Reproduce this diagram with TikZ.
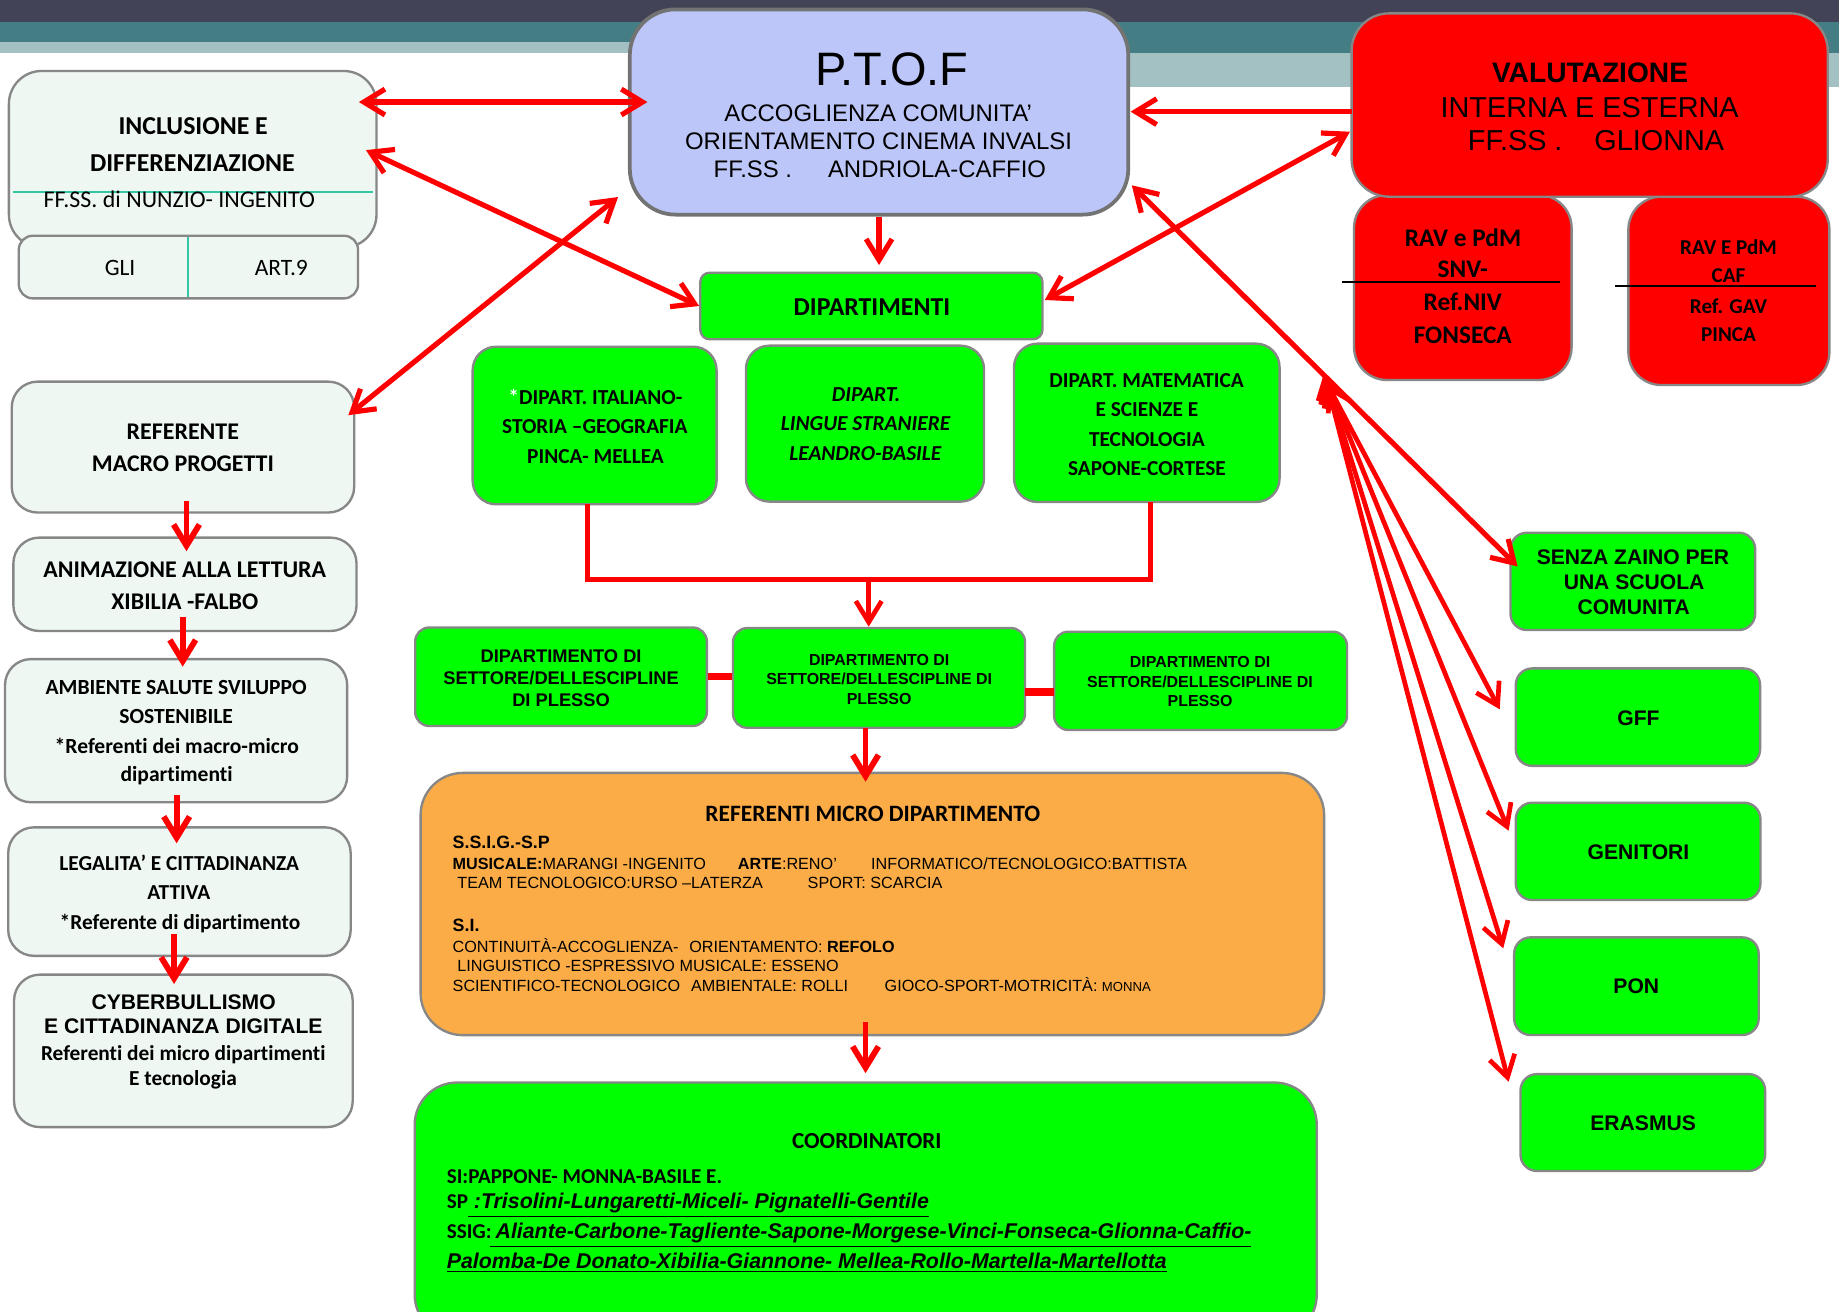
\documentclass[tikz,border=0pt]{standalone}
\usepackage{fontspec}
\setmainfont[Ligatures={NoCommon}]{Carlito}
\newfontfamily\rsArial{Liberation Sans}
\usetikzlibrary{arrows.meta,fit}
\definecolor{rsDark}{HTML}{434357}
\definecolor{rsTeal}{HTML}{447E84}
\definecolor{rsLight}{HTML}{A3C0C3}
\definecolor{rsBorder}{HTML}{878787}
\definecolor{rsLav}{HTML}{BCC6F8}
\definecolor{rsMint}{HTML}{EEF7F2}
\definecolor{rsGreen}{HTML}{00FF00}
\definecolor{rsRed}{HTML}{FF0000}
\definecolor{rsOrange}{HTML}{FBAC46}
\definecolor{rsLine}{HTML}{33C7A2}
\newcommand\rsCB[1]{\fontsize{#1}{#1}\selectfont\bfseries}
\newcommand\rsCR[1]{\fontsize{#1}{#1}\selectfont}
\newcommand\rsCBI[1]{\fontsize{#1}{#1}\selectfont\bfseries\itshape}
\newcommand\rsAB[1]{\rsArial\fontsize{#1}{#1}\selectfont\bfseries}
\newcommand\rsAR[1]{\rsArial\fontsize{#1}{#1}\selectfont}
\newcommand\rsABI[1]{\rsArial\fontsize{#1}{#1}\selectfont\bfseries\itshape}
\tikzset{
  rbox/.style={draw=rsBorder, line width=1pt, rounded corners=#1, inner sep=0pt},
  tl/.style={anchor=base, inner sep=0pt},
  tlw/.style={anchor=base west, inner sep=0pt},
  rarrow/.style={draw=rsRed, line width=2.2pt, -{Straight Barb[length=9pt,width=11pt]}},
  rdarrow/.style={draw=rsRed, line width=2.2pt, {Straight Barb[length=9pt,width=11pt]}-{Straight Barb[length=9pt,width=11pt]}},
  rline/.style={draw=rsRed, line width=2.2pt},
}
\begin{document}
\begin{tikzpicture}[x=0.5pt,y=-0.5pt]
\useasboundingbox (0,0) rectangle (1568,1118.6);
\clip (0,0) rectangle (1568,1118.6);
\fill[white] (0,0) rectangle (1568,1118.6);
% top bands
\fill[rsTeal] (0,18.5) rectangle (750,36);
\fill[rsLight] (0,36) rectangle (750,45);
\fill[rsTeal] (750,18.5) rectangle (1568,45);
\fill[rsLight] (750,45) rectangle (1568,74);
\fill[rsDark] (0,0) rectangle (1568,18.5);

% ---------- boxes ----------
\node[rbox=19.5pt, fill=rsLav, draw=rsBorder!85!black, line width=1.6pt, fit={(537,8) (962,183)}] (ptof) {};
\node[rbox=14pt, fill=rsMint, fit={(7.6,60.5) (321,211)}] (incl) {};
\node[rbox=6pt, fill=rsMint, fit={(16,201) (305.3,254.4)}] (gli) {};
\node[rbox=14pt, fill=rsRed, fit={(1154.5,166.3) (1340,324)}] (rav1) {};
\node[rbox=14pt, fill=rsRed, fit={(1388.4,167.7) (1559.8,328.3)}] (rav2) {};
\node[rbox=16pt, fill=rsRed, fit={(1152.4,11.4) (1558.4,167.7)}] (valut) {};
\node[rbox=4pt, fill=rsGreen, fit={(597.1,232.5) (888.8,289.3)}] (dip) {};
\node[rbox=10pt, fill=rsGreen, fit={(403,295.6) (611,430)}] (dA) {};
\node[rbox=10pt, fill=rsGreen, fit={(636,294.7) (839,427.7)}] (dB) {};
\node[rbox=10pt, fill=rsGreen, fit={(864.6,293) (1091,428)}] (dC) {};
\node[rbox=6pt, fill=rsGreen, fit={(354,535) (602.7,619)}] (s1) {};
\node[rbox=6pt, fill=rsGreen, fit={(625,535.5) (874,620.5)}] (s2) {};
\node[rbox=6pt, fill=rsGreen, fit={(898.8,538.6) (1148.5,622.4)}] (s3) {};
\node[rbox=18pt, fill=rsOrange, fit={(358.6,659) (1129,882.6)}] (orange) {};
\node[rbox=18pt, fill=rsGreen, fit={(353.6,923) (1122.7,1140)}] (coord) {};
\node[rbox=11pt, fill=rsMint, fit={(10,325.4) (302,437)}] (ref) {};
\node[rbox=11pt, fill=rsMint, fit={(11.4,458.4) (304,538)}] (anim) {};
\node[rbox=11pt, fill=rsMint, fit={(4.3,562) (296,684)}] (amb) {};
\node[rbox=11pt, fill=rsMint, fit={(7,705.4) (299,815)}] (leg) {};
\node[rbox=11pt, fill=rsMint, fit={(12,831) (300.7,961)}] (cyber) {};
\node[rbox=7pt, fill=rsGreen, fit={(1287.9,454.2) (1496.5,537.2)}] (senza) {};
\node[rbox=7pt, fill=rsGreen, fit={(1292.4,569.9) (1500.7,653)}] (gff) {};
\node[rbox=7pt, fill=rsGreen, fit={(1292.4,684.4) (1501,767.4)}] (gen) {};
\node[rbox=7pt, fill=rsGreen, fit={(1291,799.2) (1499.5,882.5)}] (pon) {};
\node[rbox=7pt, fill=rsGreen, fit={(1296.4,915.8) (1505,998.4)}] (eras) {};

% ---------- inner rules ----------
\draw[rsLine, line width=0.8pt] (11.4,163.4) -- (318,163.4);
\draw[rsLine, line width=0.8pt] (160.3,202) -- (160.3,253.4);
\draw[black, line width=0.7pt] (1144.2,240.7) -- (1329.7,240.7);
\draw[black, line width=0.7pt] (1377.2,243.6) -- (1548.1,243.6);

% ---------- texts ----------
\node[tl, font={\rsAR{20}}] (ptofT1) at (760.5,73.3) {P.T.O.F};
\node[tl, font={\rsAR{10.2}}] (ptofT2) at (748.8,103.7) {ACCOGLIENZA COMUNITA’};
\node[tl, font={\rsAR{10.2}}] (ptofT3) at (749,127.3) {ORIENTAMENTO CINEMA INVALSI};
\node[tlw, font={\rsAR{10.2}}] (ptofT4) at (608.1,151.5) {FF.SS .};
\node[tlw, font={\rsAR{10.2}}] (ptofT5) at (705.6,151.5) {ANDRIOLA-CAFFIO};

\node[tl, font={\rsAB{12}}] (valT1) at (1355.7,70.2) {VALUTAZIONE};
\node[tl, font={\rsAR{12.3}}] (valT2) at (1355.4,100) {INTERNA E ESTERNA};
\node[tlw, font={\rsAR{12.3}}] (valT3) at (1251.2,128.5) {FF.SS .};
\node[tlw, font={\rsAR{12.3}}] (valT4) at (1359,128.5) {GLIONNA};

\node[tl, font={\rsCB{10.8}}] (r1a) at (1247.4,209.8) {RAV e PdM};
\node[tl, font={\rsCB{10.8}}] (r1b) at (1247.2,236.8) {SNV-};
\node[tl, font={\rsCB{10.8}}] (r1c) at (1247.2,264.9) {Ref.NIV};
\node[tl, font={\rsCB{10.8}}] (r1d) at (1247.2,292.7) {FONSECA};
\node[tl, font={\rsCB{9}}] (r2a) at (1473.8,216.6) {RAV E PdM};
\node[tl, font={\rsCB{9}}] (r2b) at (1473.8,241) {CAF};
\node[tl, font={\rsCB{9}}] (r2c) at (1473.8,267.1) {Ref. GAV};
\node[tl, font={\rsCB{9}}] (r2d) at (1473.8,291.3) {PINCA};

\node[tl, font={\rsCB{11}}] (incT1) at (164.7,115.1) {INCLUSIONE E};
\node[tl, font={\rsCB{11}}] (incT2) at (164,146.4) {DIFFERENZIAZIONE};
\node[tlw, font={\rsCR{10.2}}] (incT3) at (36.9,176.8) {FF.SS. di NUNZIO- INGENITO};
\node[tl, font={\rsCR{10}}] (gliT) at (102.4,234.5) {GLI};
\node[tl, font={\rsCR{10}}] (artT) at (239.9,234.5) {ART.9};

\node[tl, font={\rsCB{11}}] (dipT) at (743.4,268.6) {DIPARTIMENTI};

\node[tl, font={\rsCB{9.1}}] (dAa) at (507.7,344.5) {\textcolor{white}{*}DIPART. ITALIANO-};
\node[tl, font={\rsCB{9.1}}] (dAb) at (507.2,369.5) {STORIA –GEOGRAFIA};
\node[tl, font={\rsCB{9.1}}] (dAc) at (507.8,395) {PINCA- MELLEA};
\node[tl, font={\rsCBI{9.1}}] (dBa) at (738.5,342.5) {DIPART.};
\node[tl, font={\rsCBI{9.1}}] (dBb) at (738,367.2) {LINGUE STRANIERE};
\node[tl, font={\rsCBI{9.1}}] (dBc) at (737.8,392.8) {LEANDRO-BASILE};
\node[tl, font={\rsCB{9.1}}] (dCa) at (977.6,330.3) {DIPART. MATEMATICA};
\node[tl, font={\rsCB{9.1}}] (dCb) at (977.9,354.7) {E SCIENZE E};
\node[tl, font={\rsCB{9.1}}] (dCc) at (977.9,380.3) {TECNOLOGIA};
\node[tl, font={\rsCB{9.1}}] (dCd) at (977.9,405) {SAPONE-CORTESE};

\node[tl, font={\rsAB{7.8}}] (s1a) at (478.4,564.7) {DIPARTIMENTO DI};
\node[tl, font={\rsAB{7.8}}] (s1b) at (478.4,584) {SETTORE/DELLESCIPLINE};
\node[tl, font={\rsAB{7.8}}] (s1c) at (478.4,602.5) {DI PLESSO};
\node[tl, font={\rsAB{6.8}}] (s2a) at (749.6,567.6) {DIPARTIMENTO DI};
\node[tl, font={\rsAB{6.8}}] (s2b) at (749.6,583.5) {SETTORE/DELLESCIPLINE DI};
\node[tl, font={\rsAB{6.8}}] (s2c) at (749.6,600.3) {PLESSO};
\node[tl, font={\rsAB{6.8}}] (s3a) at (1023.2,569.3) {DIPARTIMENTO DI};
\node[tl, font={\rsAB{6.8}}] (s3b) at (1023.2,586.4) {SETTORE/DELLESCIPLINE DI};
\node[tl, font={\rsAB{6.8}}] (s3c) at (1023.2,602.6) {PLESSO};

\node[tl, font={\rsCB{10}}] (orT) at (744.2,700.6) {REFERENTI MICRO DIPARTIMENTO};
\node[tlw, font={\rsAB{7.6}}] (or1) at (385.6,723.3) {S.S.I.G.-S.P};
\node[tlw, font={\rsAR{6.9}}] (or2a) at (385.6,741.2) {\textbf{MUSICALE:}MARANGI -INGENITO};
\node[tlw, font={\rsAR{6.9}}] (or2b) at (628.8,741.2) {\textbf{ARTE}:RENO’};
\node[tlw, font={\rsAR{6.9}}] (or2c) at (742.4,741.2) {INFORMATICO/TECNOLOGICO:BATTISTA};
\node[tlw, font={\rsAR{6.9}}] (or3a) at (389.6,757.8) {TEAM TECNOLOGICO:URSO –LATERZA};
\node[tlw, font={\rsAR{6.9}}] (or3b) at (688.3,757.8) {SPORT: SCARCIA};
\node[tlw, font={\rsAB{7.6}}] (or4) at (385.6,794.4) {S.I.};
\node[tlw, font={\rsAR{6.9}}] (or5a) at (385.6,812.3) {CONTINUITÀ-ACCOGLIENZA-};
\node[tlw, font={\rsAR{6.9}}] (or5b) at (587.3,812.3) {ORIENTAMENTO: \textbf{REFOLO}};
\node[tlw, font={\rsAR{6.9}}] (or6) at (389.6,828.5) {LINGUISTICO -ESPRESSIVO MUSICALE: ESSENO};
\node[tlw, font={\rsAR{6.9}}] (or7a) at (385.6,845.5) {SCIENTIFICO-TECNOLOGICO};
\node[tlw, font={\rsAR{6.9}}] (or7b) at (588.8,845.5) {AMBIENTALE: ROLLI};
\node[tlw, font={\rsAR{6.9}}] (or7c) at (753.9,845.5) {GIOCO-SPORT-MOTRICITÀ: {\fontsize{5.6}{6}\selectfont MONNA}};

\node[tl, font={\rsCB{9.8}}] (coT) at (739.1,979.1) {COORDINATORI};
\node[tlw, font={\rsCB{9}}] (co1) at (380.6,1008.9) {SI:PAPPONE- MONNA-BASILE E.};
\node[tlw, font={\rsCB{9}}] (co2a) at (380.6,1030.3) {SP};
\node[tlw, font={\rsABI{9.1}}] (co2b) at (398.6,1030.3) {\underline{\ :Trisolini-Lungaretti-Miceli- Pignatelli-Gentile}};
\node[tlw, font={\rsCB{9}}] (co3a) at (380.6,1055.8) {SSIG:};
\node[tlw, font={\rsABI{9.1}}] (co3b) at (417.1,1055.8) {\underline{\ Aliante-Carbone-Tagliente-Sapone-Morgese-Vinci-Fonseca-Glionna-Caffio-}};
\node[tlw, font={\rsABI{9.1}}] (co4) at (380.6,1081.4) {\underline{Palomba-De Donato-Xibilia-Giannone- Mellea-Rollo-Martella-Martellotta}};

\node[tl, font={\rsCB{10.2}}] (refT1) at (155.9,374.6) {REFERENTE};
\node[tl, font={\rsCB{10.2}}] (refT2) at (156,402.2) {MACRO PROGETTI};
\node[tl, font={\rsCB{10.2}}] (anT1) at (157.5,492.3) {ANIMAZIONE ALLA LETTURA};
\node[tl, font={\rsCB{10.2}}] (anT2) at (157.5,520.1) {XIBILIA -FALBO};
\node[tl, font={\rsCB{9.2}}] (amT1) at (150.2,591.8) {AMBIENTE SALUTE SVILUPPO};
\node[tl, font={\rsCB{9.2}}] (amT2) at (150.2,616.7) {SOSTENIBILE};
\node[tl, font={\rsCB{9.2}}] (amT3) at (150.8,642.3) {*Referenti dei macro-micro};
\node[tl, font={\rsCB{9.2}}] (amT4) at (150.6,666.5) {dipartimenti};
\node[tl, font={\rsCB{9.1}}] (leT1) at (152.8,742.4) {LEGALITA’ E CITTADINANZA};
\node[tl, font={\rsCB{9.1}}] (leT2) at (152.5,766.8) {ATTIVA};
\node[tl, font={\rsCB{9.1}}] (leT3) at (153.5,792.1) {*Referente di dipartimento};
\node[tl, font={\rsAB{9}}] (cyT1) at (156.6,860.3) {CYBERBULLISMO};
\node[tl, font={\rsAB{9}}] (cyT2) at (156.3,881.6) {E CITTADINANZA DIGITALE};
\node[tl, font={\rsCB{9.1}}] (cyT3) at (156.3,903.8) {Referenti dei micro dipartimenti};
\node[tl, font={\rsCB{9.1}}] (cyT4) at (156,925.1) {E tecnologia};

\node[tl, font={\rsAB{9}}] (szT1) at (1392.3,480.9) {SENZA ZAINO PER};
\node[tl, font={\rsAB{9}}] (szT2) at (1393.3,502.2) {UNA SCUOLA};
\node[tl, font={\rsAB{9}}] (szT3) at (1392.9,523.8) {COMUNITA};
\node[tl, font={\rsAB{9}}] (gffT) at (1397,618.2) {GFF};
\node[tl, font={\rsAB{9}}] (genT) at (1397,732.7) {GENITORI};
\node[tl, font={\rsAB{9}}] (ponT) at (1395.2,847.5) {PON};
\node[tl, font={\rsAB{9}}] (erT) at (1401,964.3) {ERASMUS};

% ---------- connector end points ----------
\coordinate (cIncA) at (306,87);
\coordinate (cPtofA) at (552,87);
\coordinate (cIncB) at (312,128);
\coordinate (cRefA) at (297,354);
\coordinate (cPtofB) at (527,168);
\coordinate (cDipTop) at (749.5,226);
\coordinate (cValA) at (1152.4,95.2);
\coordinate (cPtofC) at (964,95.2);
\coordinate (cDipR) at (890.8,255.8);
\coordinate (cValB) at (1151,112.3);
\coordinate (cPtofD) at (965,158);
\coordinate (cSzL) at (1294,483);
\coordinate (cHub1) at (1132,328);
\coordinate (cHub2) at (1131,324);
\coordinate (cHub3) at (1130,321);
\coordinate (cHub4) at (1129,318);
\coordinate (cGff) at (1278.7,604.8);
\coordinate (cGen) at (1286.3,708.3);
\coordinate (cPon) at (1281.7,808.6);
\coordinate (cEras) at (1286.3,922.3);
\coordinate (cDA) at (500.9,430);
\coordinate (cDC) at (980.6,427.8);
\coordinate (cJn) at (740.7,494);
\coordinate (cS2top) at (740.7,534.3);
\coordinate (cS2S3a) at (874,589.8);
\coordinate (cS2S3b) at (898.8,589.8);
\coordinate (cS2bot) at (738,621);
\coordinate (cOrTop) at (738,666.5);
\coordinate (cOrBot) at (738,871);
\coordinate (cCoTop) at (738,915);
\coordinate (cL1a) at (159,427);   \coordinate (cL1b) at (159,470);
\coordinate (cL2a) at (155.8,525.8); \coordinate (cL2b) at (155.8,568.4);
\coordinate (cL3a) at (150.6,678); \coordinate (cL3b) at (150.6,719);
\coordinate (cL4a) at (148.4,796.4); \coordinate (cL4b) at (148.4,839);

% ---------- connectors ----------
\draw[rdarrow] (cIncA) -- (cPtofA);
\draw[rdarrow] (cIncB) -- (dip.west);
\draw[rdarrow] (cRefA) -- (cPtofB);
\draw[rarrow] (ptof.south) -- (cDipTop);
\draw[rarrow] (cValA) -- (cPtofC);
\draw[rdarrow] (cDipR) -- (cValB);
\draw[rdarrow] (cPtofD) -- (cSzL);
\draw[rdarrow, line width=2pt] (cHub1) -- (cGff);
\draw[rdarrow, line width=2pt] (cHub2) -- (cGen);
\draw[rdarrow, line width=2pt] (cHub3) -- (cPon);
\draw[rdarrow, line width=2pt] (cHub4) -- (cEras);
\draw[rline, line width=2.1pt] (cDA) |- (cJn) -| (cDC);
\draw[rarrow, line width=2pt] (cJn) -- (cS2top);
\draw[rsRed, line width=3.2pt] (s1.east) -- (s1.east -| s2.west);
\draw[rsRed, line width=3.4pt] (cS2S3a) -- (cS2S3b);
\draw[rarrow, line width=2.5pt] (cS2bot) -- (cOrTop);
\draw[rarrow, line width=2.5pt] (cOrBot) -- (cCoTop);
\draw[rarrow, line width=2.5pt] (cL1a) -- (cL1b);
\draw[rarrow, line width=2.5pt] (cL2a) -- (cL2b);
\draw[rarrow, line width=2.5pt] (cL3a) -- (cL3b);
\draw[rarrow, line width=2.5pt] (cL4a) -- (cL4b);
\end{tikzpicture}
\end{document}
